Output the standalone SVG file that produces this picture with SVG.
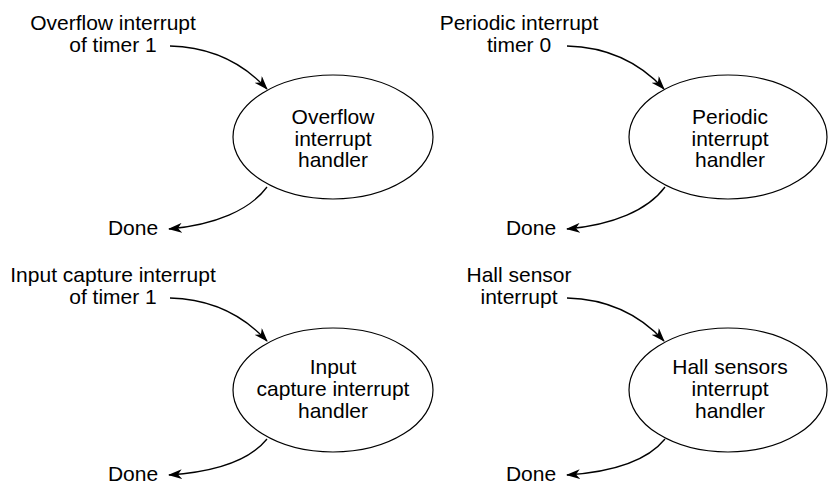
<svg xmlns="http://www.w3.org/2000/svg" width="828" height="486" viewBox="0 0 828 486">
<style>
  text { font-family: "Liberation Sans", Arial, Helvetica, sans-serif; font-size: 21px; fill: #000; text-anchor: middle; }
  .node ellipse { fill: #fff; stroke: #000; stroke-width: 1.2; }
  .conn path { fill: none; stroke: #000; stroke-width: 1.3; marker-end: url(#arrow); }
</style>
<defs>
  <marker id="arrow" viewBox="0 0 14 10" refX="13" refY="5" markerWidth="14" markerHeight="10" markerUnits="userSpaceOnUse" orient="auto">
    <path d="M0,0 L14,5 L0,10 L4,5 z" fill="#000"/>
  </marker>
</defs>
<rect width="828" height="486" fill="#fff"/>

<g id="labels">
  <text x="113" y="30">Overflow interrupt</text>
  <text x="113" y="52">of timer 1</text>
  <text x="133" y="235">Done</text>
  <text x="519" y="30">Periodic interrupt</text>
  <text x="519" y="52">timer 0</text>
  <text x="531" y="235">Done</text>
  <text x="113" y="282">Input capture interrupt</text>
  <text x="113" y="304">of timer 1</text>
  <text x="133" y="481">Done</text>
  <text x="519" y="282">Hall sensor</text>
  <text x="519" y="304">interrupt</text>
  <text x="531" y="481">Done</text>
</g>

<g id="overflow" class="node">
  <ellipse cx="333" cy="137" rx="100" ry="62"/>
  <text x="333" y="124">Overflow</text>
  <text x="333" y="146">interrupt</text>
  <text x="333" y="167">handler</text>
</g>
<g id="periodic" class="node">
  <ellipse cx="728" cy="137" rx="99" ry="62"/>
  <text x="730" y="124">Periodic</text>
  <text x="730" y="146">interrupt</text>
  <text x="730" y="167">handler</text>
</g>
<g id="capture" class="node">
  <ellipse cx="333" cy="390" rx="100" ry="62"/>
  <text x="333" y="374">Input</text>
  <text x="333" y="396">capture interrupt</text>
  <text x="333" y="418">handler</text>
</g>
<g id="hall" class="node">
  <ellipse cx="728" cy="390" rx="99" ry="62"/>
  <text x="730" y="374">Hall sensors</text>
  <text x="730" y="396">interrupt</text>
  <text x="730" y="418">handler</text>
</g>

<g id="connectors" class="conn">
  <path d="M170,46 C210,47 243,63 267,89"/>
  <path d="M267,187 C250,210 215,225 169,229"/>
  <path d="M567,46 C607,47 640,63 664,89"/>
  <path d="M665,187 C648,210 613,225 567,229"/>
  <path d="M170,298 C210,299 243,315 267,341"/>
  <path d="M267,439 C250,460 215,472 169,475"/>
  <path d="M567,298 C607,299 640,315 664,341"/>
  <path d="M665,439 C648,460 613,472 567,475"/>
</g>
</svg>
